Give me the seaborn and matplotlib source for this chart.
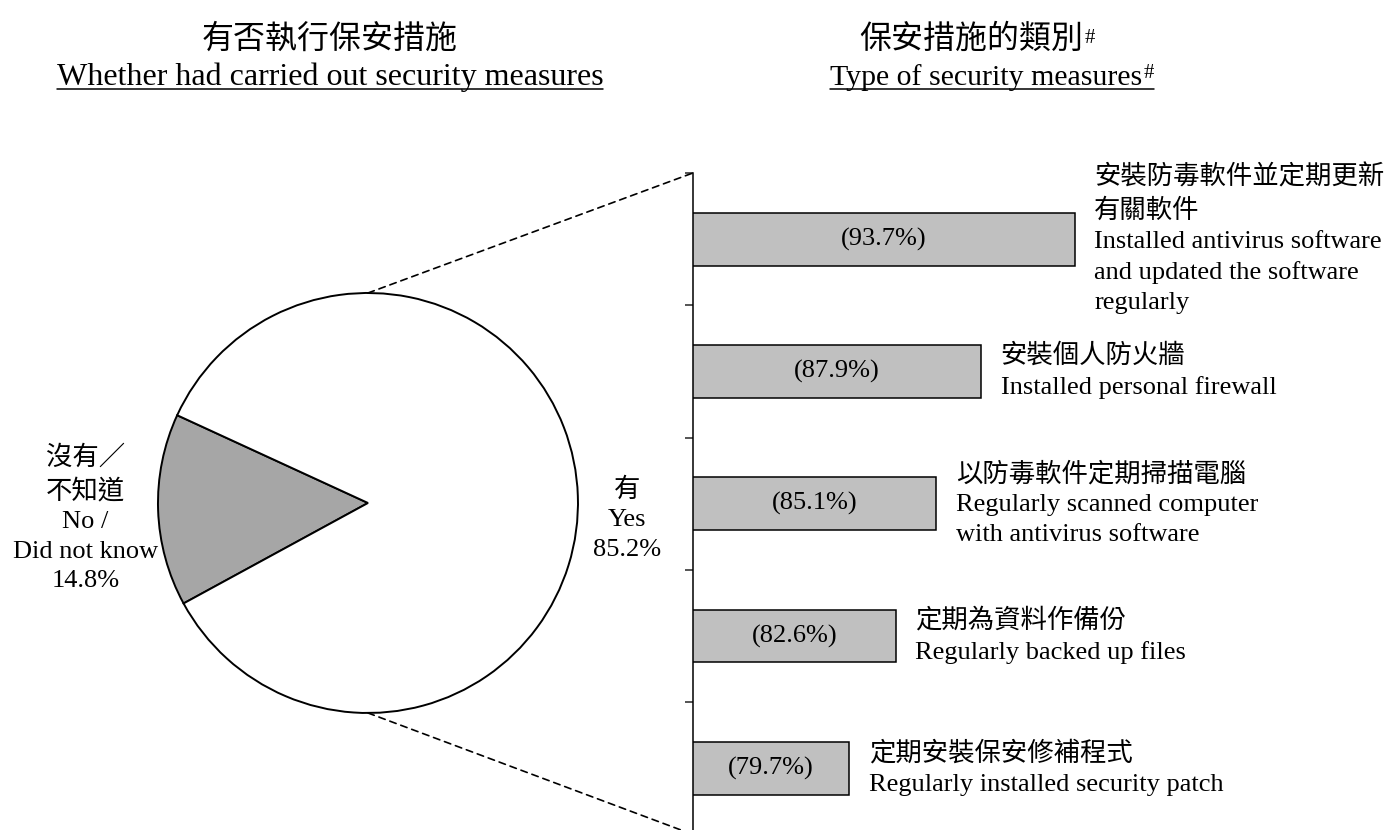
import numpy as np
import pandas as pd
import matplotlib
matplotlib.use('Agg')
import matplotlib.pyplot as plt
from matplotlib.patches import ConnectionPatch
from matplotlib.lines import Line2D
from matplotlib.transforms import Bbox
import seaborn as sns

###############################################################################

pie_labels_zh = ['沒有／\n不知道', '有']
pie_labels_en = ['No /\nDid not know', 'Yes']
pie_values    = [14.8, 85.2]
pie_colors    = ['#a6a6a6', '#ffffff']

measure_labels_zh = [
    '安裝防毒軟件並定期更新\n有關軟件',
    '安裝個人防火牆',
    '以防毒軟件定期掃描電腦',
    '定期為資料作備份',
    '定期安裝保安修補程式']
measure_labels_en = [
    'Installed antivirus software\nand updated the software\nregularly',
    'Installed personal firewall',
    'Regularly scanned computer\nwith antivirus software',
    'Regularly backed up files',
    'Regularly installed security patch']
measure_values = [93.7, 87.9, 85.1, 82.6, 79.7]

left_title_zh  = '有否執行保安措施'
left_title_en  = 'Whether had carried out security measures'
right_title_zh = '保安措施的類別'
right_title_en = 'Type of security measures'
note_mark      = '#'

###############################################################################

sns.set_style('white')
plt.rcParams['font.family'] = ['Liberation Serif', 'Noto Sans CJK TC']
plt.rcParams['text.color'] = 'black'

fig = plt.figure(figsize=(13.87, 8.30), dpi=100)

# pie on the left
ax_pie = fig.add_axes([0.1139, 0.1410, 0.3028, 0.5060])
pie_text = [f'{zh}\n{en}\n{v}%' for zh, en, v in zip(pie_labels_zh, pie_labels_en, pie_values)]
wedges, texts = ax_pie.pie(
    pie_values,
    labels=pie_text,
    colors=pie_colors,
    startangle=155.3,
    labeldistance=1.035,
    wedgeprops=dict(edgecolor='black', linewidth=1.4),
    textprops=dict(fontsize=19, multialignment='center', linespacing=1.45))
ax_pie.set_xlim(-1, 1)
ax_pie.set_ylim(-1, 1)
for t in texts:
    x, _ = t.get_position()
    t.set_position((x + 0.035, -0.075))

# bar chart on the right
ax_bar = fig.add_axes([0.4996, -0.0054, 0.5004, 0.797])
df = pd.DataFrame({'measure': measure_labels_en, 'value': measure_values})
sns.barplot(
    data=df,
    x='value',
    y='measure',
    orient='h',
    color='#c0c0c0',
    saturation=1,
    edgecolor='black',
    linewidth=1.1,
    width=0.4,
    ax=ax_bar)
ax_bar.set_xlim(70, 113.1)
ax_bar.set_ylim(4.5, -0.5)
ax_bar.set_yticks(np.arange(-0.5, 5, 1))
ax_bar.set_yticklabels([])
ax_bar.set_xticks([])
ax_bar.set_xlabel('')
ax_bar.set_ylabel('')
ax_bar.tick_params(axis='y', direction='out', left=True, length=6, width=1.1)
for side in ['top', 'right', 'bottom']:
    ax_bar.spines[side].set_visible(False)
ax_bar.spines['left'].set_color('black')
ax_bar.spines['left'].set_linewidth(1.1)
ax_bar.patch.set_alpha(0)

ax_bar.bar_label(ax_bar.containers[0], labels=[f'({v}%)' for v in measure_values],
                 label_type='center', fontsize=19)
for i, (zh, en, v) in enumerate(zip(measure_labels_zh, measure_labels_en, measure_values)):
    ax_bar.annotate(f'{zh}\n{en}', xy=(v, i), xytext=(14, 0), textcoords='offset points',
                    ha='left', va='center', fontsize=19, linespacing=1.45)

# dashed connectors from the "Yes" slice to the bar chart
for ya, yb in [(1, 1), (-1, 0)]:
    con = ConnectionPatch(xyA=(0, ya), coordsA=ax_pie.transData,
                          xyB=(0, yb), coordsB=ax_bar.transAxes,
                          linestyle=(0, (4, 3)), linewidth=1.2, color='black')
    fig.add_artist(con)

# titles, English line underlined
def add_mark(text_artist, y_offset):
    return ax_bar.annotate(note_mark, xy=(1, 1), xycoords=text_artist,
                           xytext=(1, y_offset), textcoords='offset points',
                           ha='left', va='top', fontsize=15, annotation_clip=False)

underlined = []
fig.text(0.238, 0.952, left_title_zh, ha='center', va='center', fontsize=23)
en_left = fig.text(0.238, 0.8976, left_title_en, ha='center', va='baseline', fontsize=23)
underlined.append([en_left])

zh_right = fig.text(0.700, 0.952, right_title_zh, ha='center', va='center', fontsize=23)
add_mark(zh_right, -3)
en_right = fig.text(0.711, 0.8976, right_title_en, ha='center', va='baseline', fontsize=21.5)
underlined.append([en_right, add_mark(en_right, 0)])

fig.canvas.draw()
renderer = fig.canvas.get_renderer()
width_px, height_px = fig.canvas.get_width_height()
for group in underlined:
    bb = Bbox.union([a.get_window_extent(renderer) for a in group])
    y = group[0].get_position()[1] - 4 / height_px
    fig.add_artist(Line2D([bb.x0 / width_px, bb.x1 / width_px], [y, y],
                          transform=fig.transFigure, color='black', linewidth=1.1))

fig.savefig('out.png', dpi=100)
plt.close(fig)
